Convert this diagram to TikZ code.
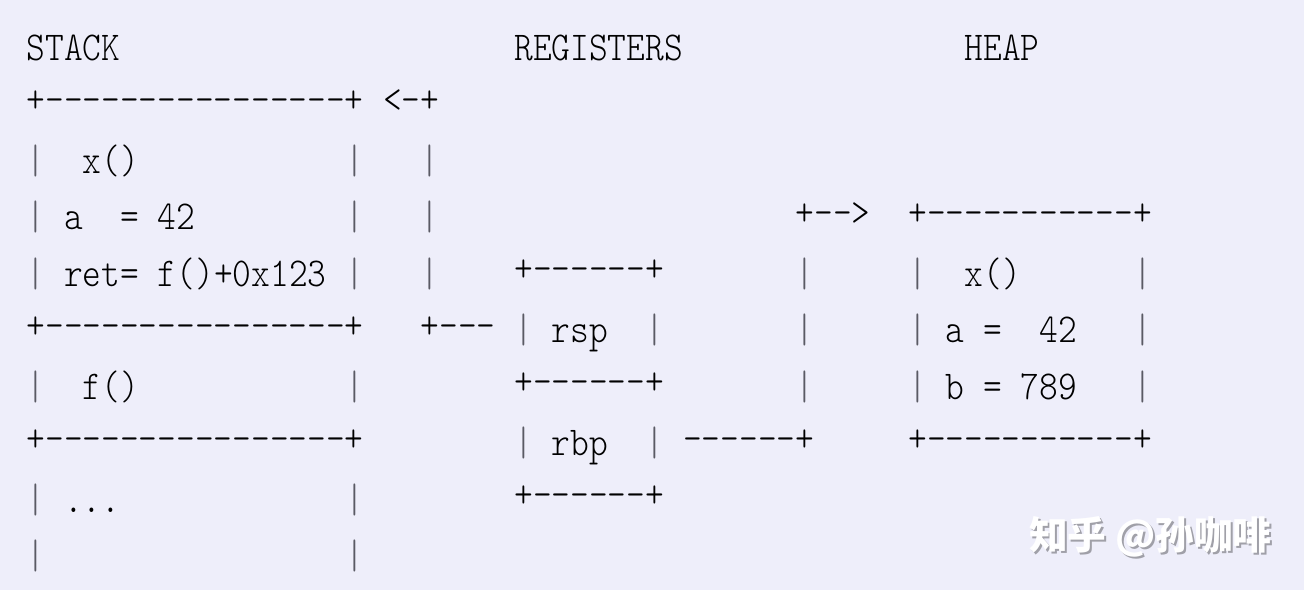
\documentclass[tikz,border=0pt]{standalone}
\usepackage{fontspec}
\newfontfamily\asc{lmmonolt10-regular}[Extension=.otf,FakeStretch=0.87]
\newfontfamily\cjk{Noto Sans CJK SC}
\definecolor{bg}{RGB}{238,238,250}
\definecolor{wmshadow}{RGB}{160,160,168}
\definecolor{bar}{RGB}{90,90,100}
\newcommand\tx[4][txt]{\node[#1] (c#2r#3) at ({26.6+18.76*#2},{60+56.5*#3}) {#4};}
\begin{document}
\begin{tikzpicture}[x=0.75pt,y=-0.75pt,
  txt/.style={anchor=base west,inner sep=0pt,outer sep=0pt,text=black,
    font=\asc\fontsize{30.75pt}{31pt}\selectfont},
  hz/.style={txt,yshift=3.2pt},
  vb/.style={txt,text=bar},
  wm/.style={anchor=base west,inner sep=0pt,outer sep=0pt,
    font=\cjk\bfseries\fontsize{29pt}{29pt}\selectfont}]
\fill[bg] (0,0) rectangle (1304,590);
\useasboundingbox (0,0) rectangle (1304,590);
% row 0
\tx{0}{0}{STACK} \tx{26}{0}{REGISTERS} \tx{50}{0}{HEAP}
% row 1
\tx[hz]{0}{1}{+----------------+} \tx[hz]{19}{1}{<-+}
% row 2
\tx[vb]{0}{2}{|} \tx{3}{2}{x()} \tx[vb]{17}{2}{|} \tx[vb]{21}{2}{|}
% row 3
\tx[vb]{0}{3}{|} \tx{2}{3}{a} \tx{5}{3}{=} \tx{7}{3}{42} \tx[vb]{17}{3}{|} \tx[vb]{21}{3}{|}
\tx[hz]{41}{3}{+-->} \tx[hz]{47}{3}{+-----------+}
% row 4
\tx[vb]{0}{4}{|} \tx{2}{4}{ret=} \tx{7}{4}{f()+0x123} \tx[vb]{17}{4}{|} \tx[vb]{21}{4}{|}
\tx[hz]{26}{4}{+------+} \tx[vb]{41}{4}{|} \tx[vb]{47}{4}{|} \tx{50}{4}{x()} \tx[vb]{59}{4}{|}
% row 5
\tx[hz]{0}{5}{+----------------+} \tx[hz]{21}{5}{+---} \tx[vb]{26}{5}{|} \tx{28}{5}{rsp} \tx[vb]{33}{5}{|}
\tx[vb]{41}{5}{|} \tx[vb]{47}{5}{|} \tx{49}{5}{a} \tx{51}{5}{=} \tx{54}{5}{42} \tx[vb]{59}{5}{|}
% row 6
\tx[vb]{0}{6}{|} \tx{3}{6}{f()} \tx[vb]{17}{6}{|} \tx[hz]{26}{6}{+------+}
\tx[vb]{41}{6}{|} \tx[vb]{47}{6}{|} \tx{49}{6}{b} \tx{51}{6}{=} \tx{53}{6}{789} \tx[vb]{59}{6}{|}
% row 7
\tx[hz]{0}{7}{+----------------+} \tx[vb]{26}{7}{|} \tx{28}{7}{rbp} \tx[vb]{33}{7}{|}
\tx[hz]{35}{7}{------+} \tx[hz]{47}{7}{+-----------+}
% row 8
\tx[vb]{0}{8}{|} \tx{2}{8}{...} \tx[vb]{17}{8}{|} \tx[hz]{26}{8}{+------+}
% row 9
\tx[vb]{0}{9}{|} \tx[vb]{17}{9}{|}
% watermark
\node[wm,text=wmshadow] (wmshadowtext) at (1031,551) {知乎 @孙咖啡};
\node[wm,text=white] (wmtext) at (1029,549) {知乎 @孙咖啡};
\end{tikzpicture}
\end{document}
